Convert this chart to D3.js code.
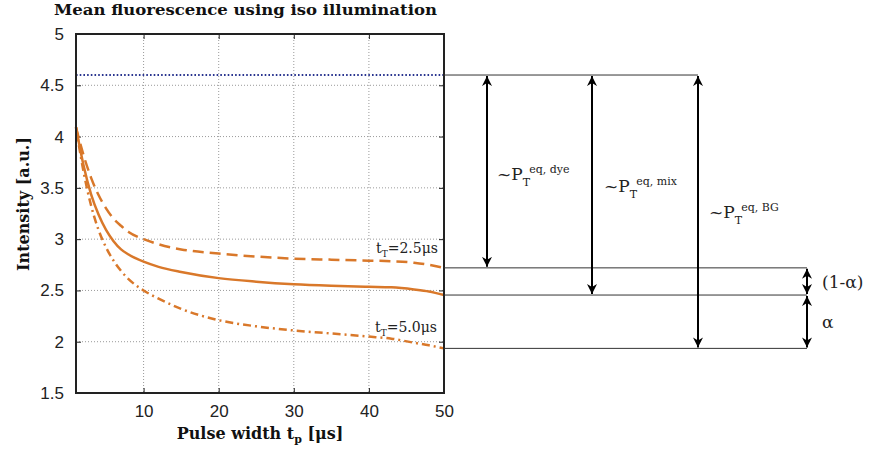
<!doctype html>
<html>
 <head>
  <meta charset='utf-8'>
  <title>Mean fluorescence using iso illumination</title>
  <style>
    html,body{margin:0;background:white;}
    svg{display:block;font-family:'DejaVu Serif',serif;}
    .grid line{stroke:#9a9a9a;stroke-width:1;stroke-dasharray:1,2;}
    .tick text{fill:#222;}
  </style>
 </head>
 <body>
  <svg id='chart' width='870' height='452'></svg>
 </body>
</html>
<script src='https://cdn.jsdelivr.net/npm/d3@7/dist/d3.min.js'></script>
<script>

  // pulse width t_p [us]
  var pulse = [1, 2, 3, 4, 5, 6, 7, 8, 10, 12, 15, 20, 25, 30, 35, 40, 43, 46, 48, 50]

  // t_T = 2.5us (dashed)
  var dye   = [4.09, 3.82, 3.60, 3.43, 3.30, 3.20, 3.13, 3.07, 3.00, 2.95, 2.90, 2.86, 2.83, 2.81, 2.80, 2.79, 2.785, 2.77, 2.75, 2.72]
  // mixture (solid)
  var mix   = [4.09, 3.72, 3.44, 3.24, 3.09, 2.98, 2.90, 2.85, 2.78, 2.73, 2.68, 2.62, 2.585, 2.56, 2.545, 2.535, 2.53, 2.51, 2.49, 2.455]
  // t_T = 5.0us (dash-dot)
  var bg    = [4.09, 3.66, 3.33, 3.09, 2.92, 2.79, 2.69, 2.61, 2.50, 2.42, 2.32, 2.21, 2.15, 2.11, 2.08, 2.05, 2.03, 1.99, 1.965, 1.935]

  // level without triplet (blue dotted)
  var baseLevel = 4.6

  var xTicks = [10, 20, 30, 40, 50]
  var yTicks = [1.5, 2, 2.5, 3, 3.5, 4, 4.5, 5]

  var box = {left:76, right:444, top:34, bottom:393}
  var orange = '#d9782a'

  var svg = d3.select('#chart')

  var x = d3.scaleLinear().domain([1, 50]).range([box.left, box.right])
  var y = d3.scaleLinear().domain([1.5, 5]).range([box.bottom, box.top])

  /*
   * grid
   */
  var grid = svg.append('g').attr('class','grid')
  grid.selectAll('.gx').data(xTicks.slice(0,-1)).enter().append('line')
      .attr('x1',d=>x(d)).attr('x2',d=>x(d)).attr('y1',box.top).attr('y2',box.bottom)
  grid.selectAll('.gy').data(yTicks.slice(1,-1)).enter().append('line')
      .attr('y1',d=>y(d)).attr('y2',d=>y(d)).attr('x1',box.left).attr('x2',box.right)

  /*
   * axes (ticks inward, matlab style)
   */
  function styleAxis(g){
    g.select('.domain').remove()
    g.selectAll('.tick line').attr('stroke','#222').attr('stroke-width',1)
    g.selectAll('.tick text').attr('font-size','17px')
  }
  svg.append('g').attr('transform','translate(0,'+box.bottom+')')
     .call(d3.axisBottom(x).tickValues(xTicks).tickSizeInner(-5).tickPadding(12))
     .call(styleAxis)
  svg.append('g').attr('transform','translate(0,'+box.top+')')
     .call(d3.axisTop(x).tickValues(xTicks).tickSizeInner(-5).tickFormat(''))
     .call(styleAxis)
  svg.append('g').attr('transform','translate('+box.left+',0)')
     .call(d3.axisLeft(y).tickValues(yTicks).tickSizeInner(-5).tickPadding(12).tickFormat(d3.format('')))
     .call(styleAxis)
  svg.append('g').attr('transform','translate('+box.right+',0)')
     .call(d3.axisRight(y).tickValues(yTicks).tickSizeInner(-5).tickFormat(''))
     .call(styleAxis)

  /*
   * curves
   */
  var line = d3.line().x(d=>x(d[0])).y(d=>y(d[1])).curve(d3.curveMonotoneX)
  var series = [
    {v:dye, dash:'11,6'},
    {v:mix, dash:null},
    {v:bg,  dash:'8,4,2,4'}
  ]
  var plot = svg.append('g')
  plot.append('line')
      .attr('x1',box.left).attr('x2',box.right)
      .attr('y1',y(baseLevel)).attr('y2',y(baseLevel))
      .attr('stroke','#2a3590').attr('stroke-width',2).attr('stroke-dasharray','1.6,2.1')
  series.forEach(function(s){
    plot.append('path')
        .datum(d3.zip(pulse, s.v))
        .attr('d',line)
        .attr('fill','none')
        .attr('stroke',orange)
        .attr('stroke-width',2.5)
        .attr('stroke-dasharray',s.dash)
  })

  // box
  svg.append('rect')
     .attr('x',box.left).attr('y',box.top)
     .attr('width',box.right-box.left).attr('height',box.bottom-box.top)
     .attr('fill','none').attr('stroke','#222').attr('stroke-width',2)

  /*
   * curve labels
   */
  function tLabel(text, px, py){
    var t = svg.append('text').attr('x',px).attr('y',py).attr('font-size','14px').attr('fill','#222')
    t.append('tspan').text('t')
    t.append('tspan').attr('font-size','9px').attr('dy',4).text('T')
    t.append('tspan').attr('dy',-4).text(text)
  }
  tLabel('=2.5μs', 376, 253)
  tLabel('=5.0μs', 375, 332)

  /*
   * titles
   */
  svg.append('text').attr('x',54).attr('y',15)
     .attr('font-size','15.5px').attr('font-weight','bold').attr('fill','#111')
     .attr('textLength',383).attr('lengthAdjust','spacingAndGlyphs')
     .text('Mean fluorescence using iso illumination')

  var xl = svg.append('text').attr('x',260).attr('y',439).attr('text-anchor','middle')
     .attr('font-size','16px').attr('font-weight','bold').attr('fill','#111')
  xl.append('tspan').text('Pulse width t')
  xl.append('tspan').attr('font-size','11px').attr('dy',4).text('p')
  xl.append('tspan').attr('dy',-4).text(' [μs]')

  svg.append('text').attr('transform','translate(29,204) rotate(-90)')
     .attr('text-anchor','middle').attr('font-size','16px').attr('font-weight','bold').attr('fill','#111')
     .text('Intensity [a.u.]')

  /*
   * annotation: reference levels and arrows
   */
  var levTop = y(baseLevel),
      levDye = y(dye[dye.length-1]),
      levMix = y(mix[mix.length-1]),
      levBg  = y(bg[bg.length-1])

  var ann = svg.append('g')
  ann.append('line').attr('x1',box.right).attr('x2',698).attr('y1',levTop).attr('y2',levTop)
  ;[levDye, levMix, levBg].forEach(function(l){
    ann.append('line').attr('x1',box.right).attr('x2',807).attr('y1',l).attr('y2',l)
  })
  ann.selectAll('line').attr('stroke','#333').attr('stroke-width',1)

  svg.append('defs').append('marker')
     .attr('id','head').attr('viewBox','0 0 10 10').attr('refX',10).attr('refY',5)
     .attr('markerWidth',10).attr('markerHeight',10).attr('markerUnits','userSpaceOnUse')
     .attr('orient','auto-start-reverse')
     .append('path').attr('d','M0,0 L10,5 L0,10 L3,5 Z').attr('fill','#000')

  function arrow(px, y1, y2){
    svg.append('line').attr('x1',px).attr('x2',px).attr('y1',y1+1).attr('y2',y2-1)
       .attr('stroke','#000').attr('stroke-width',2)
       .attr('marker-start','url(#head)').attr('marker-end','url(#head)')
  }
  arrow(487, levTop, levDye)
  arrow(592, levTop, levMix)
  arrow(698, levTop, levBg)
  arrow(807, levDye, levMix)
  arrow(807, levMix, levBg)

  function pLabel(sup, px, py){
    var t = svg.append('text').attr('x',px).attr('y',py).attr('font-size','17px').attr('fill','#222')
    t.append('tspan').text('~P')
    t.append('tspan').attr('font-size','11px').attr('dy',6).text('T')
    t.append('tspan').attr('font-size','11px').attr('dy',-13).text(sup)
  }
  pLabel('eq, dye', 497, 180)
  pLabel('eq, mix', 604, 192)
  pLabel('eq, BG', 709, 218)

  svg.append('text').attr('x',822).attr('y',288).attr('font-size','17px').attr('fill','#222').text('(1-α)')
  svg.append('text').attr('x',822).attr('y',328).attr('font-size','17px').attr('fill','#222').text('α')

</script>
